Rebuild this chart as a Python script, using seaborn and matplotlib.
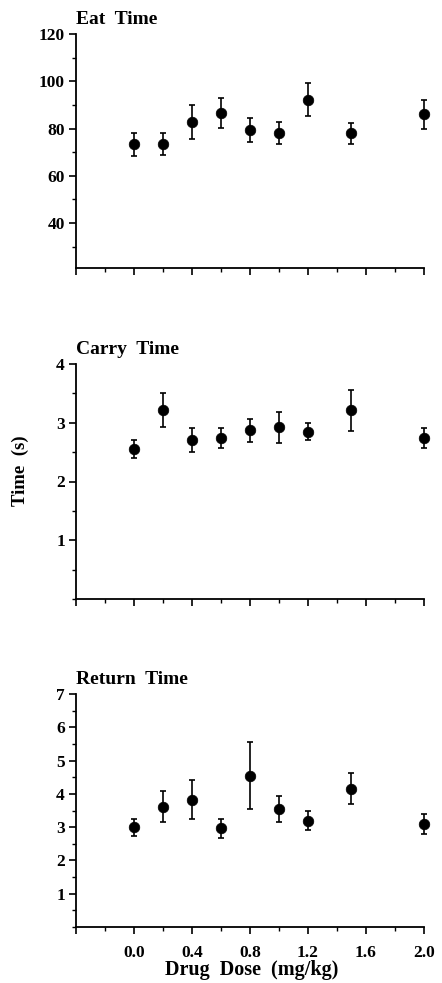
import matplotlib
matplotlib.use("Agg")
import matplotlib.pyplot as plt
import seaborn as sns
import numpy as np
import pandas as pd
from matplotlib.ticker import MultipleLocator, FixedLocator

sns.set_theme(style="white")
plt.rcParams['font.family'] = ['Liberation Serif', 'DejaVu Serif']
plt.rcParams['font.weight'] = 'bold'

dose = [0.0, 0.2, 0.4, 0.6, 0.8, 1.0, 1.2, 1.5, 2.0]

eat_mean = [73.3, 73.5, 82.7, 86.7, 79.4, 78.0, 92.1, 78.0, 86.0]
eat_err = [4.9, 4.6, 7.3, 6.3, 5.0, 4.7, 7.0, 4.4, 6.2]

carry_mean = [2.55, 3.21, 2.71, 2.74, 2.87, 2.92, 2.85, 3.21, 2.74]
carry_err = [0.15, 0.29, 0.20, 0.17, 0.20, 0.27, 0.14, 0.35, 0.17]

return_mean = [2.99, 3.61, 3.83, 2.96, 4.55, 3.55, 3.19, 4.16, 3.09]
return_err = [0.26, 0.47, 0.60, 0.29, 1.00, 0.40, 0.28, 0.46, 0.29]

titles = ["Eat  Time", "Carry  Time", "Return  Time"]
x_tick_labels = ["", "0.0", "0.4", "0.8", "1.2", "1.6", "2.0"]

panels = [
    dict(mean=eat_mean, err=eat_err, ylim=(21, 120), minor=10,
         yticks=[40, 60, 80, 100, 120], pos=(34, 268)),
    dict(mean=carry_mean, err=carry_err, ylim=(0, 4), minor=0.5,
         yticks=[1, 2, 3, 4], pos=(364, 599)),
    dict(mean=return_mean, err=return_err, ylim=(0, 7), minor=0.5,
         yticks=[1, 2, 3, 4, 5, 6, 7], pos=(694, 927)),
]

W, H = 442, 983
fig = plt.figure(figsize=(W / 100, H / 100), dpi=100)
left_px, right_px = 76, 424

for i, (p, title) in enumerate(zip(panels, titles)):
    top, bot = p["pos"]
    ax = fig.add_axes([left_px / W, 1 - bot / H, (right_px - left_px) / W, (bot - top) / H])
    df = pd.DataFrame({"dose": dose, "mean": p["mean"], "err": p["err"]})
    ax.errorbar(df["dose"], df["mean"], yerr=df["err"], fmt="none", ecolor="black",
                elinewidth=1.2, capsize=2.2, capthick=1.2, clip_on=False, zorder=2)
    sns.scatterplot(data=df, x="dose", y="mean", ax=ax, color="black", s=58,
                    edgecolor="black", linewidth=0.5, clip_on=False, zorder=3, legend=False)
    ax.set_xlim(-0.4, 2.0)
    ax.set_ylim(*p["ylim"])
    for s in ["top", "right"]:
        ax.spines[s].set_visible(False)
    for s in ["left", "bottom"]:
        ax.spines[s].set_color("black")
        ax.spines[s].set_linewidth(1.3)
    ax.yaxis.set_major_locator(FixedLocator(p["yticks"]))
    ax.yaxis.set_minor_locator(MultipleLocator(p["minor"]))
    ax.xaxis.set_major_locator(FixedLocator([-0.4, 0.0, 0.4, 0.8, 1.2, 1.6, 2.0]))
    ax.xaxis.set_minor_locator(FixedLocator([-0.2, 0.2, 0.6, 1.0, 1.4, 1.8]))
    ax.tick_params(axis="both", which="major", direction="out", length=5, width=1.2,
                   color="black", labelsize=12.5, labelcolor="black", left=True, bottom=True)
    ax.tick_params(axis="both", which="minor", direction="out", length=3, width=1.0,
                   color="black", left=True, bottom=True)
    ax.tick_params(axis="y", pad=3)
    ax.tick_params(axis="x", pad=8)
    for lbl in ax.get_yticklabels():
        lbl.set_fontweight("bold")
    if i == 2:
        ax.set_xticklabels(x_tick_labels, fontweight="bold")
    else:
        ax.set_xticklabels([])
    ax.set_xlabel("")
    ax.set_ylabel("")
    ax.set_title(title, loc="left", fontsize=14, fontweight="bold", pad=7, color="black")
    ax.grid(False)

fig.text(20 / W, 1 - 471 / H, "Time  (s)", rotation=90, ha="center", va="center",
         fontsize=13.5, fontweight="bold", color="black")
fig.text(252 / W, 1 - 970 / H, "Drug  Dose  (mg/kg)", ha="center", va="center",
         fontsize=14.5, fontweight="bold", color="black")

fig.savefig("out.png", dpi=100, facecolor="white")
